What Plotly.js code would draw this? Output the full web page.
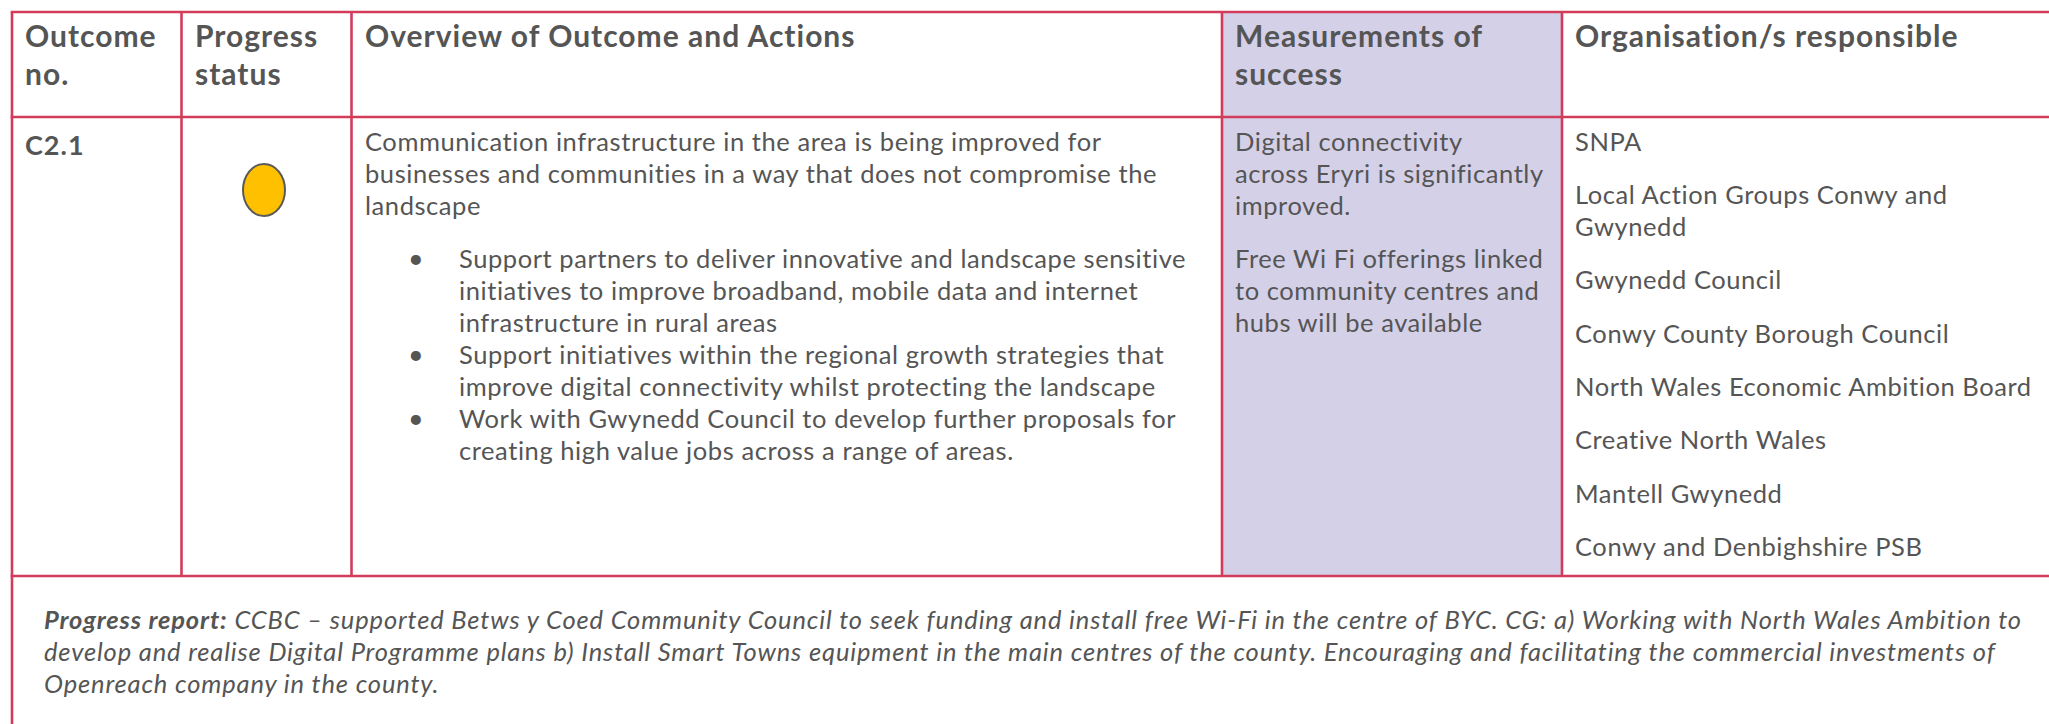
<!DOCTYPE html>
<html>
<head>
<meta charset="utf-8">
<script src="https://cdn.plot.ly/plotly-3.0.1.min.js"></script>
<style>
  html, body { margin: 0; padding: 0; background: #ffffff; }
  #chart { width: 2049px; height: 724px; }
</style>
</head>
<body>
<div id="chart"></div>
<script>
// ---------------- DATA ----------------
const headers = [
  ["Outcome", "no."],
  ["Progress", "status"],
  ["Overview of Outcome and Actions"],
  ["Measurements of", "success"],
  ["Organisation/s responsible"]
];
const outcomeNo = "C2.1";
const progressStatus = "amber";
const statusColours = { green: "#00B050", amber: "#FFC000", red: "#FF0000" };
const overviewIntro = [
  "Communication infrastructure in the area is being improved for",
  "businesses and communities in a way that does not compromise the",
  "landscape"
];
const actions = [
  ["Support partners to deliver innovative and landscape sensitive",
   "initiatives to improve broadband, mobile data and internet",
   "infrastructure in rural areas"],
  ["Support initiatives within the regional growth strategies that",
   "improve digital connectivity whilst protecting the landscape"],
  ["Work with Gwynedd Council to develop further proposals for",
   "creating high value jobs across a range of areas."]
];
const measures = [
  ["Digital connectivity", "across Eryri is significantly", "improved."],
  ["Free Wi Fi offerings linked", "to community centres and", "hubs will be available"]
];
const organisations = [
  ["SNPA"],
  ["Local Action Groups Conwy and", "Gwynedd"],
  ["Gwynedd Council"],
  ["Conwy County Borough Council"],
  ["North Wales Economic Ambition Board"],
  ["Creative North Wales"],
  ["Mantell Gwynedd"],
  ["Conwy and Denbighshire PSB"]
];
const progressLabel = "Progress report:";
const progressReport = [
  " CCBC \u2013 supported Betws y Coed Community Council to seek funding and install free Wi-Fi in the centre of BYC. CG: a) Working with North Wales Ambition to",
  "develop and realise Digital Programme plans b) Install Smart Towns equipment in the main centres of the county. Encouraging and facilitating the commercial investments of",
  "Openreach company in the county."
];

// ---------------- LAYOUT CONSTANTS ----------------
const W = 2049, H = 724;
const colEdges = [12, 181.5, 351.5, 1222, 1562, 2060];
const rowTop = 12, headBottom = 117, rowBottom = 576;
const lineCol = "#d23c5a";
const purple = "#d4d0e8";
const textCol = "#555555";
const FONT = "Lato, 'Open Sans', sans-serif";
const headStyle = { fs: 30, ls: 1.0, bold: true };
const idStyle = { fs: 27, ls: 1.0, bold: true };
const bodyStyle = { fs: 25.5, ls: 0.57 };
const italStyle = { fs: 25.5, ls: 0.85 };
const lineH = 32, paraGap = 21.3;
const padL = 12;
const firstBase = 150;

const annotations = [];
function addLine(txt, x, baseline, st) {
  annotations.push({
    text: '<span style="letter-spacing:' + st.ls + 'px">' + txt + '</span>',
    x: x, y: baseline - 0.36 * st.fs, xref: "x", yref: "y",
    xanchor: "left", yanchor: "middle", showarrow: false, align: "left",
    borderpad: 0,
    font: { family: FONT, size: st.fs, color: textCol, weight: st.bold ? 700 : 400 }
  });
}

// header
headers.forEach((lines, c) => {
  lines.forEach((l, i) => addLine(l, colEdges[c] + padL, 46 + i * 38, headStyle));
});
// outcome no
addLine(outcomeNo, colEdges[0] + padL, 154, idStyle);

// overview
let b = firstBase;
overviewIntro.forEach(l => { addLine(l, colEdges[2] + padL, b, bodyStyle); b += lineH; });
b += paraGap - 0.3;
actions.forEach(lines => {
  addLine("\u2022", colEdges[2] + 55, b, { fs: 27, ls: 0 });
  lines.forEach(l => { addLine(l, colEdges[2] + 106, b, bodyStyle); b += lineH; });
});

// measures
b = firstBase;
measures.forEach(lines => {
  lines.forEach(l => { addLine(l, colEdges[3] + padL, b, bodyStyle); b += lineH; });
  b += paraGap;
});

// organisations
b = firstBase;
organisations.forEach(lines => {
  lines.forEach(l => { addLine(l, colEdges[4] + padL, b, bodyStyle); b += lineH; });
  b += paraGap;
});

// progress report
b = 628;
progressReport.forEach((l, i) => {
  const t = (i === 0 ? "<b><i>" + progressLabel + "</i></b>" : "") + "<i>" + l + "</i>";
  addLine(t, 43, b, italStyle);
  b += lineH;
});

// shapes
const shapes = [];
shapes.push({ type: "rect", xref: "x", yref: "y", x0: colEdges[3], x1: colEdges[4], y0: rowTop, y1: rowBottom,
  fillcolor: purple, line: { width: 0 }, layer: "below" });
const lw = 2.6;
[rowTop, headBottom, rowBottom].forEach(y => shapes.push({ type: "line", xref: "x", yref: "y",
  x0: colEdges[0] - 1.3, x1: W + 20, y0: y, y1: y, line: { color: lineCol, width: lw } }));
shapes.push({ type: "line", xref: "x", yref: "y", x0: colEdges[0], x1: colEdges[0], y0: rowTop, y1: H + 20,
  line: { color: lineCol, width: lw } });
for (let c = 1; c <= 4; c++) {
  shapes.push({ type: "line", xref: "x", yref: "y", x0: colEdges[c], x1: colEdges[c], y0: rowTop, y1: rowBottom,
    line: { color: lineCol, width: lw } });
}
// status indicator
const cx = (colEdges[1] + colEdges[2]) / 2 - 2.5, cy = 190;
shapes.push({ type: "circle", xref: "x", yref: "y", x0: cx - 21, x1: cx + 21, y0: cy - 26, y1: cy + 26,
  fillcolor: statusColours[progressStatus], line: { color: "#595959", width: 2 } });

const layout = {
  width: W, height: H,
  margin: { l: 0, r: 0, t: 0, b: 0, pad: 0 },
  paper_bgcolor: "#ffffff", plot_bgcolor: "#ffffff",
  showlegend: false,
  xaxis: { range: [0, W], visible: false, fixedrange: true },
  yaxis: { range: [H, 0], visible: false, fixedrange: true },
  shapes: shapes,
  annotations: annotations
};
Plotly.newPlot("chart", [], layout, { staticPlot: true, displayModeBar: false });
</script>
</body>
</html>
